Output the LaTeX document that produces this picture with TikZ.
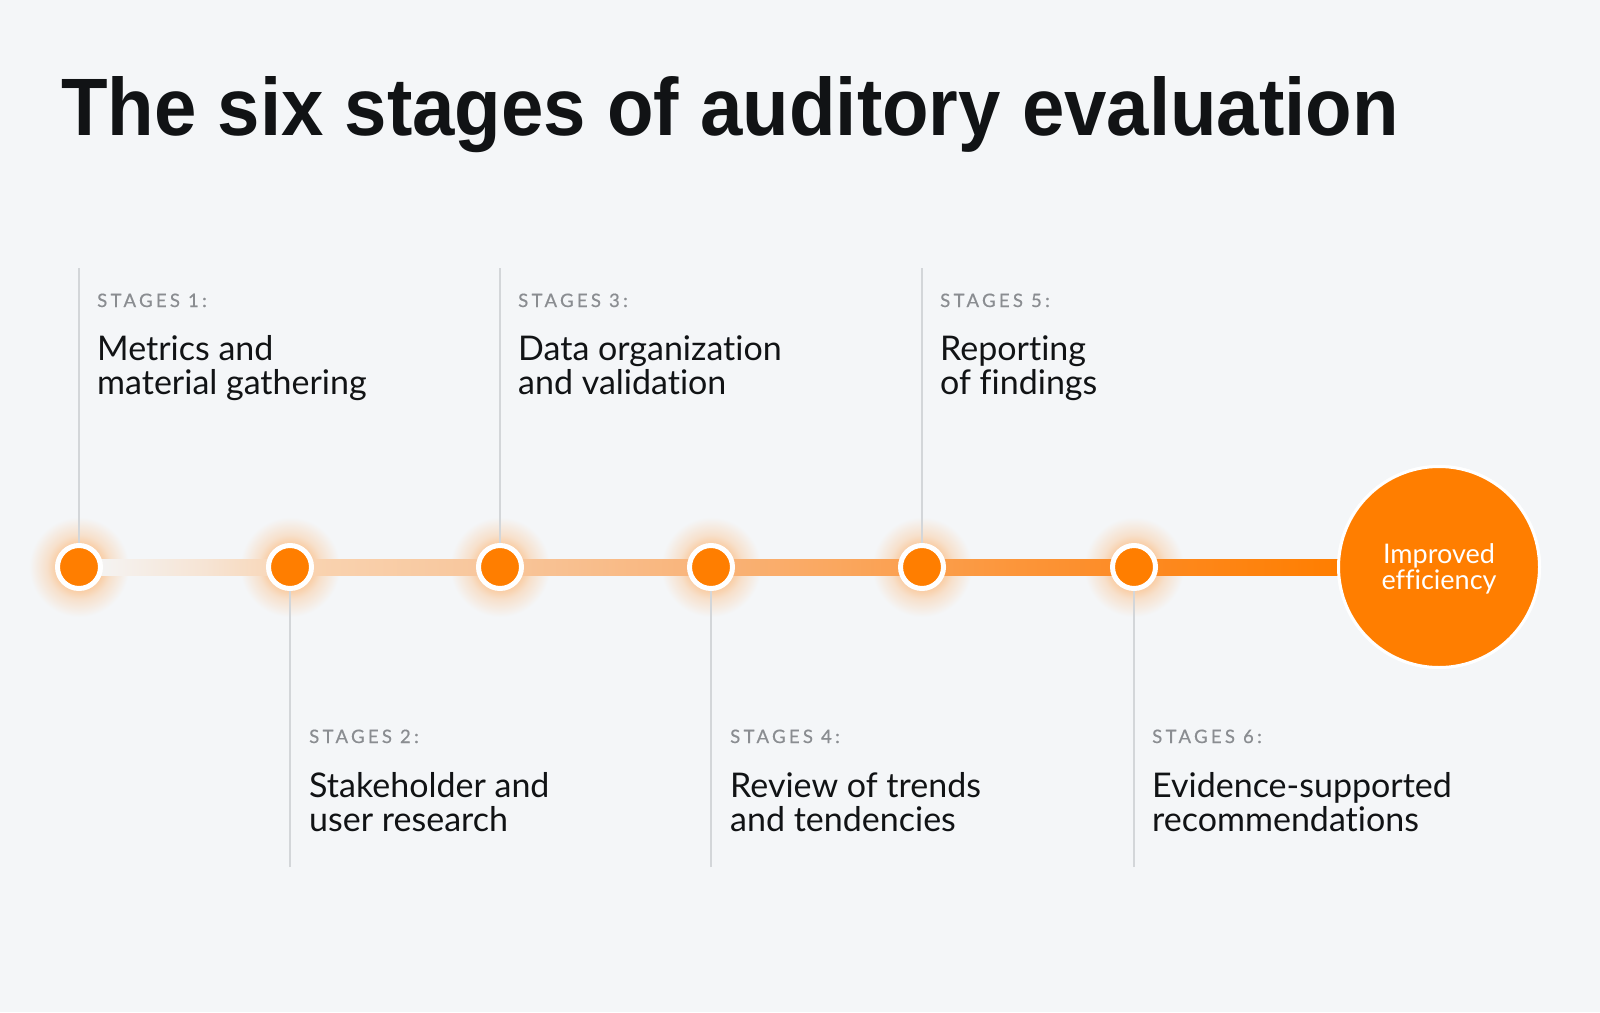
\documentclass[tikz,border=0pt]{standalone}
\usepackage{fontspec}
\usetikzlibrary{calc}
\newfontfamily\titlef{Liberation Sans}
\newfontfamily\bodyf[RawFeature={-liga;-dlig}]{Lato}
\newfontfamily\labelf[LetterSpace=18,FakeBold=0.6,RawFeature={-liga}]{Lato}
\definecolor{bg}{HTML}{F4F6F8}
\definecolor{orng}{HTML}{FF7E00}
\definecolor{ink}{HTML}{111315}
\definecolor{lbl}{HTML}{8A8D91}
\definecolor{vl}{HTML}{D3D6D9}
\definecolor{ta}{HTML}{F6E4D4}
\definecolor{tb}{HTML}{F9D4B2}
\definecolor{tc}{HTML}{F8C59A}
\definecolor{td}{HTML}{F9B378}
\definecolor{te}{HTML}{FB9E4C}
\definecolor{tf}{HTML}{FD8A22}
\definecolor{gl1}{HTML}{F9CFA8}
\definecolor{gl2}{HTML}{F7E0CB}
\pgfdeclarehorizontalshading{tlshade}{100bp}{color(0bp)=(bg); color(25bp)=(bg); color(30bp)=(ta); color(33.4bp)=(tb); color(41.8bp)=(tc); color(50.2bp)=(td); color(58.6bp)=(te); color(67bp)=(tf); color(75bp)=(orng); color(100bp)=(orng)}
\pgfdeclareradialshading{glow}{\pgfpoint{0bp}{0bp}}{color(0bp)=(gl1); color(12bp)=(gl1); color(16bp)=(gl2); color(25bp)=(bg); color(50bp)=(bg)}
\tikzset{
  dot/.style={circle, inner sep=0pt, minimum size=43pt, fill=orng, draw=white, line width=5pt},
  bigdot/.style={circle, inner sep=0pt, minimum size=201pt, fill=orng, draw=white, line width=3pt},
  bigtxt/.style={inner sep=0pt, align=center, text=white, font=\bodyf\fontsize{27}{25.5}\selectfont},
  vline/.style={draw=vl, line width=1.5pt},
  stagelbl/.style={anchor=base west, inner sep=0pt, text=lbl, font=\labelf\fontsize{18.5}{18.5}\selectfont},
  stagetxt/.style={anchor=base west, inner sep=0pt, text=ink, font=\bodyf\fontsize{34}{34}\selectfont},
}
\begin{document}
\begin{tikzpicture}[x=1pt,y=-1pt]
\fill[bg] (0,0) rectangle (1600,1012);
\useasboundingbox (0,0) rectangle (1600,1012);
% title
\node[anchor=base west, inner sep=0pt, text=ink] (title) at (61,135.5) {\resizebox{1337pt}{59pt}{\titlef\bfseries The six stages of auditory evaluation}};
% glows
\foreach \x in {79,290,500,711,922,1134} {
  \shade[shading=glow] (\x,567) circle (50);
}
\node[bigdot] (big) at (1439,567) {};
\coordinate (t1) at (79,268);
\coordinate (t3) at (500,268);
\coordinate (t5) at (922,268);
\coordinate (b2) at (290,867);
\coordinate (b4) at (711,867);
\coordinate (b6) at (1134,867);
\path (79,567) coordinate (p1) (290,567) coordinate (p2) (500,567) coordinate (p3)
      (711,567) coordinate (p4) (922,567) coordinate (p5) (1134,567) coordinate (p6);
% timeline bar
\shade[shading=tlshade] ($(p1)+(0,-8)$) rectangle ($(big.west)+(2,8)$);
% vertical lines
\draw[vline] (t1) -- (p1);
\draw[vline] (t3) -- (p3);
\draw[vline] (t5) -- (p5);
\draw[vline] (b2) -- (p2);
\draw[vline] (b4) -- (p4);
\draw[vline] (b6) -- (p6);
\foreach \i in {1,...,6} { \node[dot] (c\i) at (p\i) {}; }
\node[bigdot] (bigc) at (big) {};
\node[bigtxt] (bigt) at ($(bigc.center)+(0,2)$) {Improved\\efficiency};
% top stages
\node[stagelbl] (l1) at (97,307) {STAGES 1:};
\node[stagetxt] (s1a) at (97,360) {Metrics and};
\node[stagetxt] (s1b) at (97,394.5) {material gathering};
\node[stagelbl] (l3) at (518,307) {STAGES 3:};
\node[stagetxt] (s3a) at (518,360) {Data organization};
\node[stagetxt] (s3b) at (518,394.5) {and validation};
\node[stagelbl] (l5) at (940,307) {STAGES 5:};
\node[stagetxt] (s5a) at (940,360) {Reporting};
\node[stagetxt] (s5b) at (940,394.5) {of findings};
% bottom stages
\node[stagelbl] (l2) at (309,743) {STAGES 2:};
\node[stagetxt] (s2a) at (309,797) {Stakeholder and};
\node[stagetxt] (s2b) at (309,831) {user research};
\node[stagelbl] (l4) at (730,743) {STAGES 4:};
\node[stagetxt] (s4a) at (730,797) {Review of trends};
\node[stagetxt] (s4b) at (730,831) {and tendencies};
\node[stagelbl] (l6) at (1152,743) {STAGES 6:};
\node[stagetxt] (s6a) at (1152,797) {Evidence-supported};
\node[stagetxt] (s6b) at (1152,831) {recommendations};
\end{tikzpicture}
\end{document}
